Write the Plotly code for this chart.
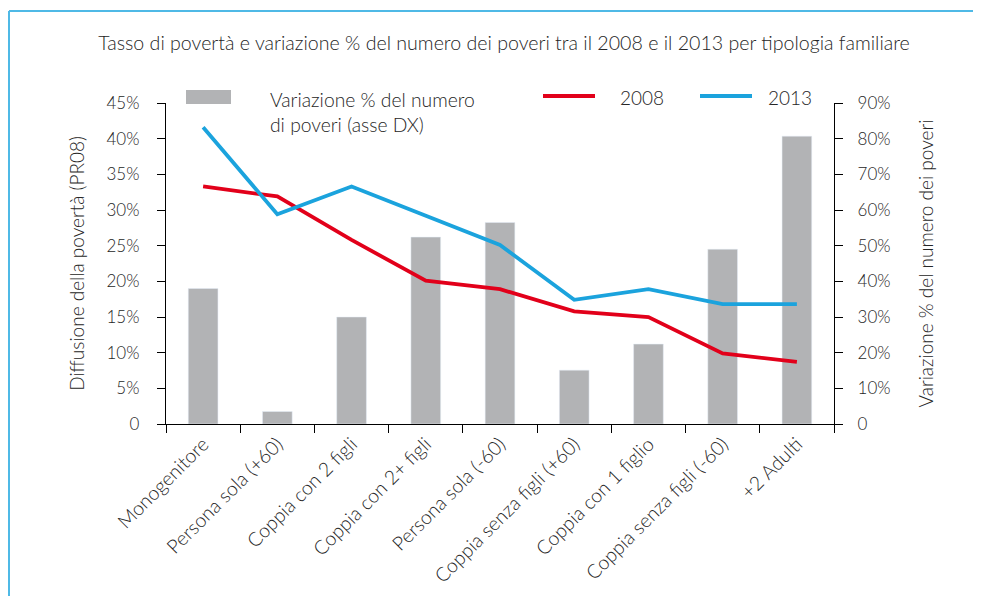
import plotly.graph_objects as go

categories = ["Monogenitore", "Persona sola (+60)", "Coppia con 2 figli", "Coppia con 2+ figli",
              "Persona sola (-60)", "Coppia senza figli (+60)", "Coppia con 1 figlio",
              "Coppia senza figli (-60)", "+2 Adulti"]
variazione = [38, 3.5, 30, 52.4, 56.5, 15.1, 22.4, 49, 80.7]
pov_2008 = [33.3, 31.9, 25.8, 20.1, 18.9, 15.8, 15.0, 9.9, 8.7]
pov_2013 = [41.6, 29.4, 33.3, 29.2, 25.1, 17.4, 18.9, 16.8, 16.8]
left_ticks = [0, 5, 10, 15, 20, 25, 30, 35, 40, 45]
left_text = ["0"] + [f"{v}%" for v in left_ticks[1:]]
right_ticks = [0, 10, 20, 30, 40, 50, 60, 70, 80, 90]
right_text = ["0"] + [f"{v}%" for v in right_ticks[1:]]

W, H = 981, 596
OX, OY = 8, 8  # page offset of the figure
# plot area in screen pixels
L, R, T, B = 166, 834, 103, 424
FONT = "Lato"
TXT = "#262626"
GRAY = "#b2b3b5"
RED = "#e2001a"
BLUE = "#1ba3dd"

def px(x):
    return (x - L) / (R - L)

def py(y):
    return (B - y) / (B - T)

fig = go.Figure()
fig.add_trace(go.Bar(x=categories, y=variazione, marker_color=GRAY, width=0.40,
                     name="Variazione % del numero di poveri (asse DX)", yaxis="y"))
fig.add_trace(go.Scatter(x=categories, y=pov_2008, mode="lines", line=dict(color=RED, width=3.8),
                         name="2008", yaxis="y2"))
fig.add_trace(go.Scatter(x=categories, y=pov_2013, mode="lines", line=dict(color=BLUE, width=3.8),
                         name="2013", yaxis="y2"))

def tf(size):
    return dict(family=FONT, size=size, color=TXT, weight=300)

axis_common = dict(showgrid=False, zeroline=False, showline=True, linecolor="black", linewidth=1.3,
                   ticks="outside", ticklen=8, tickcolor="black", tickwidth=1.3)

fig.update_layout(
    width=W, height=H,
    margin=dict(l=L - OX, r=W - (R - OX), t=T - OY, b=H - (B - OY), pad=0),
    paper_bgcolor="white", plot_bgcolor="white",
    showlegend=False,
    xaxis=dict(**axis_common, tickangle=-45, tickson="boundaries", range=[-0.5, 8.5],
               tickfont=tf(19.5)),
    yaxis=dict(**axis_common, side="right", range=[0, 90], tickvals=right_ticks, ticktext=right_text,
               ticklabelstandoff=11, tickfont=tf(17),
               title=dict(text="Variazione % del numero dei poveri", font=tf(19), standoff=30)),
    yaxis2=dict(**axis_common, side="left", overlaying="y", range=[0, 45], tickvals=left_ticks,
                ticktext=left_text, ticklabelstandoff=14, tickfont=tf(17),
                title=dict(text="Diffusione della povertà (PR08)", font=tf(19), standoff=16)),
    title=dict(text="Tasso di povertà e variazione % del numero dei poveri tra il 2008 e il 2013 per tipologia familiare",
               x=px(504), xanchor="center", xref="paper", y=1 - (43 - OY) / H, yanchor="middle",
               font=tf(19.6)),
)

frame = "#4fb9e6"
shapes = [
    dict(type="line", xref="paper", yref="paper", x0=px(9), x1=px(W + 20), y0=py(11), y1=py(11),
         line=dict(color=frame, width=2)),
    dict(type="line", xref="paper", yref="paper", x0=px(9), x1=px(9), y0=py(11), y1=py(H + 20),
         line=dict(color=frame, width=2)),
    dict(type="rect", xref="paper", yref="paper", x0=px(186), x1=px(231), y0=py(104), y1=py(90),
         fillcolor=GRAY, line=dict(width=0)),
    dict(type="line", xref="paper", yref="paper", x0=px(543), x1=px(595), y0=py(96), y1=py(96),
         line=dict(color=RED, width=3.8)),
    dict(type="line", xref="paper", yref="paper", x0=px(700), x1=px(752), y0=py(96), y1=py(96),
         line=dict(color=BLUE, width=3.8)),
]
annotations = [
    dict(text="Variazione % del numero<br>di poveri (asse DX)", xref="paper", yref="paper",
         x=px(268), y=py(86), xanchor="left", yanchor="top", align="left", showarrow=False,
         font=tf(19.3)),
    dict(text="2008", xref="paper", yref="paper", x=px(618), y=py(97), xanchor="left", yanchor="middle",
         showarrow=False, font=tf(19)),
    dict(text="2013", xref="paper", yref="paper", x=px(766), y=py(97), xanchor="left", yanchor="middle",
         showarrow=False, font=tf(19)),
]
fig.update_layout(shapes=shapes, annotations=annotations)

fig.write_html("out.html")
